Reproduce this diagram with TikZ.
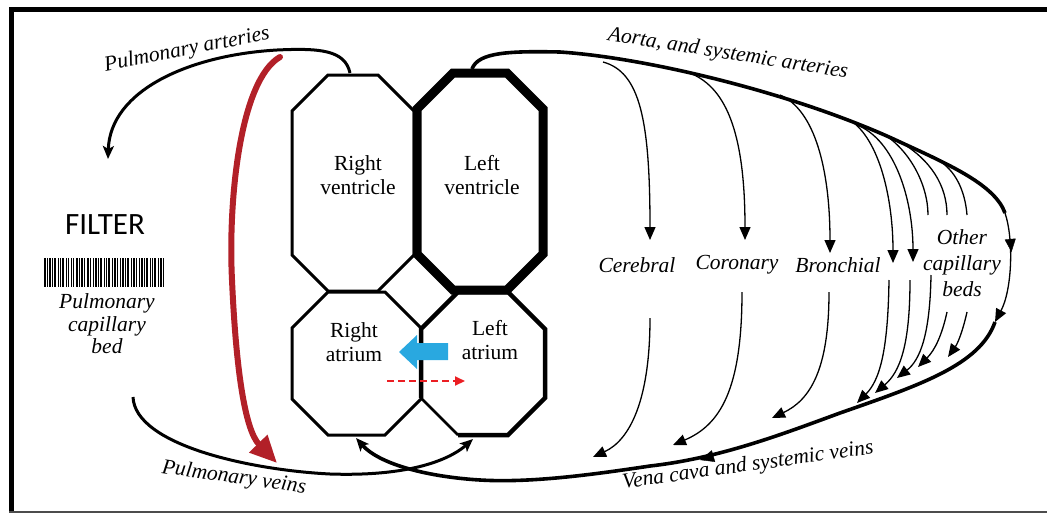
\documentclass[tikz,border=0pt]{standalone}
\usepackage{fontspec}
\setmainfont{Liberation Serif}
\newfontfamily\filterfont{Carlito}
\usetikzlibrary{arrows.meta}
\definecolor{heartred}{RGB}{178,32,40}
\definecolor{shuntblue}{RGB}{41,168,224}
\definecolor{dashred}{RGB}{235,30,35}
\begin{document}
\begin{tikzpicture}[x=1pt,y=-1pt,
  lab/.style={font=\fontsize{21.5}{24.5}\selectfont, align=center, inner sep=0pt},
  ilab/.style={font=\fontsize{21.5}{24.5}\selectfont\itshape, align=center, inner sep=0pt},
  thinarr/.style={line width=1.3pt, -{Triangle[length=13pt,width=11pt]}},
  branch/.style={line width=1.3pt},
  vessel/.style={line width=3pt},
  bigvessel/.style={line width=3.6pt},
  wall/.style={line width=3pt, line join=miter},
  stealthend/.style={-{Stealth[length=13pt,width=11pt,inset=3pt]}}]
\useasboundingbox (0,0) rectangle (1047,515);

% frame
\draw[line width=5pt] (11.5,512) -- (11.5,9.5) -- (1047,9.5);
\draw[line width=1.5pt, black!70] (9,512) -- (1047,512);

% named points
\coordinate (rvTop) at (350,73);
\coordinate (lvTop) at (472,69);
\coordinate (raBot) at (356,438);
\coordinate (laBot) at (473,439);
\coordinate (pcbIn) at (108,159);
\coordinate (pcbOut) at (133,397);
\coordinate (redStart) at (280,57);
\coordinate (redEnd) at (277,463);
\coordinate (aoEnd) at (1005,213);
\coordinate (vcStart) at (995,322);

% heart chambers
\draw[wall] (328,75) -- (378,75) -- (414,111) -- (414,255) -- (378,291) -- (328,291) -- (292,255) -- (292,111) -- cycle;
\draw[line width=9pt, line join=miter] (453,73) -- (507,73) -- (543,109) -- (543,254) -- (507,290) -- (453,290) -- (417,254) -- (417,109) -- cycle;
\draw[wall] (328,292) -- (385,292) -- (421,328) -- (421,399) -- (385,435) -- (328,435) -- (292,399) -- (292,328) -- cycle;
\draw[line width=4.5pt, line join=miter] (421,398) -- (421,329) -- (458,292) -- (508,292) -- (545,329) -- (545,398) -- (508,435) -- (458,435);
\draw[line width=2.5pt] (458,435) -- (421,398);

\node[lab] (rv) at (358,175) {Right\\ventricle};
\node[lab] (lv) at (482,175) {Left\\ventricle};
\node[lab] (ra) at (354,342) {Right\\atrium};
\node[lab] (la) at (490,340) {Left\\atrium};

% shunt arrows
\fill[shuntblue] (448,343) -- (417,343) -- (417,335) -- (399,352) -- (417,369) -- (417,360) -- (448,360) -- cycle;
\draw[dashred, line width=2pt, dash pattern=on 7pt off 4pt, -{Triangle[length=10pt,width=9pt]}] (387,381) -- (465,381);

% pulmonary circuit
\draw[vessel, stealthend] (rvTop) .. controls (345,50) and (320,48) .. (277,50) .. controls (190,55) and (110,90) .. (pcbIn);
\draw[vessel, stealthend] (pcbOut) .. controls (135,445) and (250,470) .. (330,474) .. controls (420,477) and (455,455) .. (laBot);
\draw[heartred, line width=6pt, line cap=round, -{Triangle[length=27pt,width=24pt]}] (redStart) .. controls (240,80) and (228,200) .. (232,280) .. controls (236,370) and (245,430) .. (redEnd);

\node[ilab, rotate=11] (pa) at (187,50) {Pulmonary arteries};
\node[ilab, rotate=-8] (pv) at (234,478) {Pulmonary veins};
\node[inner sep=0pt, font=\filterfont\fontsize{31}{34}\selectfont] (filter) at (105,225) {FILTER};
\foreach \x/\w in {45/1.4,47.6/0.9,50/1.5,52.8/0.9,55.3/1.8,58.3/0.9,60.6/1,63.2/1.8,66.2/0.9,68.6/1.5,71.4/0.9,73.8/1,76.6/1.8,79.6/0.9,82/1.5,84.8/0.9,87.6/1.8,90.6/0.9,93/1,95.8/1.5,98.6/0.9,101.2/1.8,104.2/0.9,106.6/1,109.2/1.5,112/0.9,114.8/1.8,117.8/0.9,120.2/1,122.8/1.5,125.6/0.9,128.2/1.8,131.2/0.9,133.8/1.5,136.6/0.9,139/1,141.8/1.8,144.8/0.9,147.2/1.5,150/0.9,152.6/1,155.2/1.8,158.2/0.9,160.8/1.5,163.8/1}
  \draw[line width=\w pt] (\x,258) -- (\x,287);
\node[ilab, font=\fontsize{21.5}{22.5}\selectfont\itshape] (pcb) at (107,324) {Pulmonary\\capillary\\bed};

% systemic circuit
\draw[bigvessel] (lvTop) .. controls (478,52) and (510,51) .. (560,52) .. controls (650,58) and (800,95) .. (900,142) .. controls (950,165) and (995,185) .. (aoEnd);
\draw[thinarr] (aoEnd) .. controls (1014,240) and (1012,290) .. (vcStart);
\draw[-{Triangle[length=13pt,width=11pt]}] (1010.5,242) -- (1011.5,252);
\draw[bigvessel, stealthend] (vcStart) .. controls (980,365) and (920,385) .. (840,413) .. controls (780,435) and (720,458) .. (650,466) .. controls (590,475) and (530,483) .. (480,480) .. controls (430,477) and (380,465) .. (raBot);
\draw[-{Triangle[length=14pt,width=12pt]}] (712,456.5) -- (700,460);

% arterial branches
\foreach \sx/\sy/\ax/\ay/\bx/\by/\ex/\ey in {603/62/640/72/650/120/650/240, 687/72/725/85/745/130/745/240, 780/95/815/110/830/170/830/253, 850/120/880/140/893/200/893/263, 857/125/895/140/913/200/913/262}
  \draw[thinarr] (\sx,\sy) .. controls (\ax,\ay) and (\bx,\by) .. (\ex,\ey);
\foreach \sx/\sy/\ax/\ay/\bx/\by/\ex/\ey in {882/133/910/150/928/185/928/215, 902/143/930/160/947/185/947/215, 938/160/955/170/965/190/967/215}
  \draw[branch] (\sx,\sy) .. controls (\ax,\ay) and (\bx,\by) .. (\ex,\ey);
% venous returns
\foreach \sx/\sy/\ax/\ay/\bx/\by/\ex/\ey in {650/318/650/400/630/440/593/457, 742/292/742/390/720/425/673/445, 829/292/829/370/810/400/772/418, 889/280/888/350/880/380/857/403, 910/280/910/345/900/372/875/393, 931/275/930/335/920/360/897/378, 947/312/942/335/935/350/918/367, 967/312/963/330/958/343/948/357}
  \draw[thinarr] (\sx,\sy) .. controls (\ax,\ay) and (\bx,\by) .. (\ex,\ey);

\node[ilab, rotate=-9] (ao) at (728,54) {Aorta, and systemic arteries};
\node[ilab, rotate=8] (vc) at (748,466) {Vena cava and systemic veins};
\node[ilab] (cer) at (637,265) {Cerebral};
\node[ilab] (cor) at (737,265) {Coronary};
\node[ilab] (bro) at (838,265) {Bronchial};
\node[ilab, font=\fontsize{21.5}{26}\selectfont\itshape] (oth) at (962,263) {Other\\capillary\\beds};
\end{tikzpicture}
\end{document}
